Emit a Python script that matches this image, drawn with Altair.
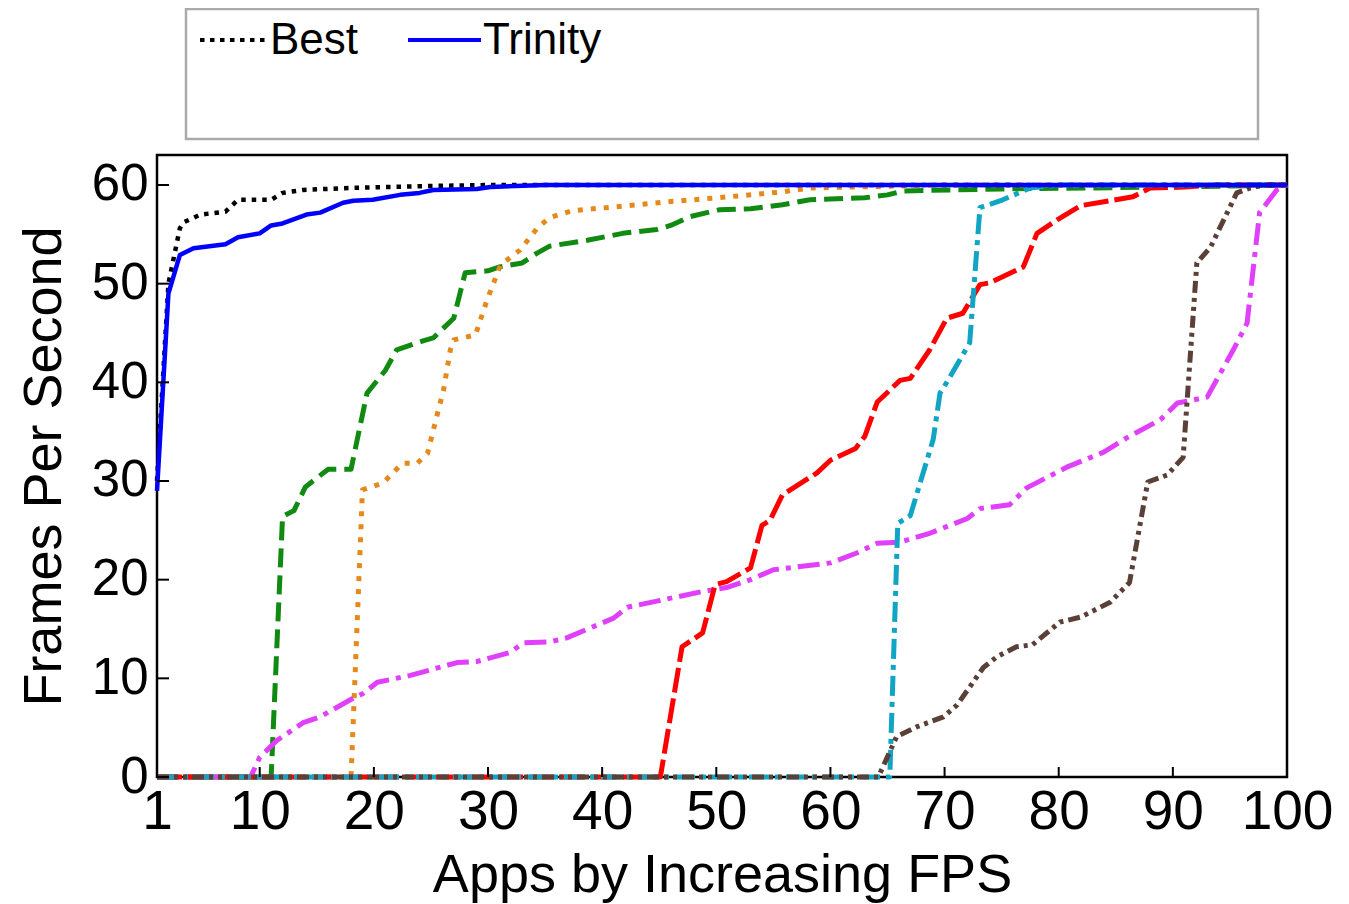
import altair as alt
import pandas as pd

FONT = "Liberation Sans"
W, H = 1130, 622

# ---------------- data ----------------
best_x = [1, 2, 3, 3.3, 4.8, 7, 8.1, 11, 12, 13.8, 18, 25, 30, 100]
best_y = [30, 50, 55.6, 56.2, 57, 57.3, 58.5, 58.5, 59.2, 59.5, 59.7, 59.9, 60, 60]

trinity_x = [1, 2, 3, 4.2, 7, 8.1, 10, 11, 12, 14.1, 15.3, 17.3, 18.2, 19.9, 22.3, 24,
             25.2, 29, 30.2, 35, 100]
trinity_y = [29, 49, 52.9, 53.6, 54, 54.7, 55.1, 55.9, 56.1, 57, 57.2, 58.2, 58.4, 58.5,
             59, 59.2, 59.5, 59.6, 59.8, 60, 60]

green_x = [1, 11, 12, 13, 14, 16, 18, 19.4, 21, 22, 24.3, 25.2, 27, 28, 30, 31, 33, 34.3,
           35.4, 38.7, 41.8, 44.8, 46, 47.7, 50.3, 53, 55.8, 58.2, 63, 65, 66.4, 75, 90, 100]
green_y = [0, 0, 26.4, 27, 29.4, 31.2, 31.2, 38.9, 41.2, 43.3, 44.2, 44.5, 46.5, 51.1, 51.3,
           51.7, 52.1, 53.1, 53.8, 54.4, 55.1, 55.5, 55.9, 56.8, 57.5, 57.6, 58, 58.5, 58.7,
           59, 59.4, 59.6, 59.8, 60]

orange_x = [1, 18, 19, 20.8, 22.5, 23.8, 24.7, 25.5, 26.1, 26.7, 27, 28.9, 29.9, 31.1, 32.8,
            34.3, 35.4, 37.4, 41.3, 45.7, 50.1, 55.8, 58.2, 70, 100]
orange_y = [0, 0, 29.1, 29.8, 31.8, 31.8, 32.8, 36.5, 39.2, 43.3, 44.3, 44.8, 48.3, 51.9,
            53.4, 55.6, 56.7, 57.4, 57.8, 58.3, 58.7, 59.3, 59.7, 60, 60]

red_x = [1, 45.1, 47, 48.8, 49.9, 50.9, 53, 54, 54.7, 55.8, 58.8, 60, 62.2, 63, 64.1, 66.1,
         67, 68.7, 70.2, 71.6, 73.1, 74, 76.9, 78.1, 79.9, 81.9, 86.5, 88, 90.9, 94, 100]
red_y = [0, 0, 13.2, 14.6, 19.5, 19.8, 21.2, 25.5, 26, 28.6, 30.8, 32.1, 33.3, 34.5, 38,
         40.2, 40.4, 43.3, 46.5, 47, 49.9, 50.1, 51.7, 55.1, 56.5, 57.9, 58.8, 59.7, 59.8,
         60, 60]

cyan_x = [1, 65.2, 65.9, 67, 69, 69.6, 70.3, 71.6, 72.2, 73.1, 75.1, 77.5, 80, 100]
cyan_y = [0, 0, 25.7, 26.5, 34.2, 38.9, 40.2, 42.8, 44, 57.7, 58.5, 59.7, 60, 60]

brown_x = [1, 64.2, 65.8, 67.6, 69.9, 71.1, 73.4, 74.6, 76.3, 77.7, 80.1, 81.9, 84.5, 86.2,
           87.8, 89.5, 90.9, 92.1, 93.3, 95.6, 96.8, 98, 100]
brown_y = [0, 0, 4.1, 5.1, 6.1, 7.3, 11.1, 12.2, 13.2, 13.4, 15.7, 16.2, 17.7, 19.7, 29.9,
           30.6, 32.4, 52.1, 53.7, 59.2, 59.7, 60, 60]

magenta_x = [1, 9.2, 10, 11.5, 13.8, 15.3, 17.9, 19.1, 20.3, 23.2, 27.3, 29, 31.9, 33.1,
             35.4, 36.9, 41, 42.2, 45.1, 48.8, 50.9, 53, 55, 60, 62.3, 64.1, 66.1, 68.7, 72,
             73.1, 75.7, 77.2, 80.7, 83.9, 86, 88.9, 90.4, 93, 95.3, 96.5, 97.6, 99.1, 100]
magenta_y = [0, 0, 2, 3.7, 5.5, 6.1, 7.8, 8.5, 9.6, 10.3, 11.6, 11.7, 12.6, 13.6, 13.7,
             14.1, 16.1, 17.2, 17.9, 18.8, 19.2, 20, 21, 21.7, 22.7, 23.7, 23.8, 24.7, 26.2,
             27.2, 27.6, 29.3, 31.4, 32.9, 34.4, 36.2, 37.9, 38.5, 43.3, 46, 57.2, 59.5, 60]

x_ticks = [1, 10, 20, 30, 40, 50, 60, 70, 80, 90, 100]
y_ticks = [0, 10, 20, 30, 40, 50, 60]
legend_labels = ["Best", "Trinity"]

# ---------------- scales & axes ----------------
xs = alt.Scale(domain=[1, 100], nice=False, zero=False)
ys = alt.Scale(domain=[0, 63.04], nice=False, zero=False)

x_axis = alt.Axis(values=x_ticks, ticks=False, domain=False, grid=False, format="d",
                  labelFont=FONT, labelFontSize=55, labelPadding=8, labelColor="black",
                  labelFlush=False, labelOverlap=False,
                  title="Apps by Increasing FPS", titleFont=FONT, titleFontSize=54,
                  titleFontWeight="normal", titleColor="black",
                  titleX=565, titleY=114, titleBaseline="alphabetic", titleAlign="center")
y_axis = alt.Axis(values=y_ticks, ticks=False, domain=False, grid=False, format="d",
                  labelFont=FONT, labelFontSize=51, labelPadding=9, labelColor="black",
                  labelFlush=False, labelOverlap=False,
                  title="Frames Per Second", titleFont=FONT, titleFontSize=54,
                  titleFontWeight="normal", titleColor="black", titleAngle=270,
                  titleX=-97, titleY=311, titleBaseline="alphabetic", titleAlign="center")


def series(xv, yv, color, dash, width=5):
    df = pd.DataFrame({"x": xv, "y": yv})
    kw = dict(color=color, strokeWidth=width, strokeCap="butt", strokeJoin="round")
    if dash:
        kw["strokeDash"] = dash
    return alt.Chart(df).mark_line(**kw).encode(
        x=alt.X("x:Q", scale=xs, axis=x_axis),
        y=alt.Y("y:Q", scale=ys, axis=y_axis),
    )


layers = [
    series(green_x, green_y, "#118a11", [19, 8]),
    series(orange_x, orange_y, "#e6891c", [5, 8]),
    series(magenta_x, magenta_y, "#e040fb", [22, 7, 5, 7]),
    series(red_x, red_y, "#ff0000", [25, 6]),
    series(cyan_x, cyan_y, "#10a5c5", [20, 6, 5, 6]),
    series(brown_x, brown_y, "#5b4037", [12, 5, 4, 5, 4, 5]),
    series(best_x, best_y, "black", [4.5, 6], 4.5),
    series(trinity_x, trinity_y, "#0000ff", None, 4.5),
]

# inward ticks
xt = alt.Chart(pd.DataFrame({"t": x_ticks})).mark_rule(color="black", strokeWidth=2).encode(
    x=alt.X("t:Q", scale=xs, axis=x_axis), y=alt.value(H), y2=alt.value(H - 10))
yt = alt.Chart(pd.DataFrame({"t": y_ticks})).mark_rule(color="black", strokeWidth=2).encode(
    y=alt.Y("t:Q", scale=ys, axis=y_axis), x=alt.value(0), x2=alt.value(12))
layers += [xt, yt]

# custom legend box
one = pd.DataFrame({"k": [0]})
box = alt.Chart(one).mark_rect(fill="white", stroke="#aaaaaa", strokeWidth=2.5).encode(
    x=alt.value(29), x2=alt.value(1101), y=alt.value(-146), y2=alt.value(-16))
leg_best_line = alt.Chart(one).mark_rule(color="black", strokeWidth=4, strokeDash=[4.5, 5.5]).encode(
    x=alt.value(43), x2=alt.value(112), y=alt.value(-115))
leg_tri_line = alt.Chart(one).mark_rule(color="#0000ff", strokeWidth=4).encode(
    x=alt.value(251), x2=alt.value(324), y=alt.value(-115))
leg_best_text = alt.Chart(pd.DataFrame({"label": [legend_labels[0]]})).mark_text(
    align="left", baseline="alphabetic", font=FONT, fontSize=44, color="black").encode(
    x=alt.value(113), y=alt.value(-101), text="label:N")
leg_tri_text = alt.Chart(pd.DataFrame({"label": [legend_labels[1]]})).mark_text(
    align="left", baseline="alphabetic", font=FONT, fontSize=44, color="black").encode(
    x=alt.value(326), y=alt.value(-101), text="label:N")
layers += [box, leg_best_line, leg_tri_line, leg_best_text, leg_tri_text]

chart = alt.layer(*layers).properties(
    width=W, height=H,
    autosize=alt.AutoSizeParams(type="none"),
    padding={"left": 149, "top": 147, "right": 54, "bottom": 127},
    background="white",
).configure_view(stroke="black", strokeWidth=2.5)

chart.save("out.html", embed_options={"renderer": "svg", "actions": False})
